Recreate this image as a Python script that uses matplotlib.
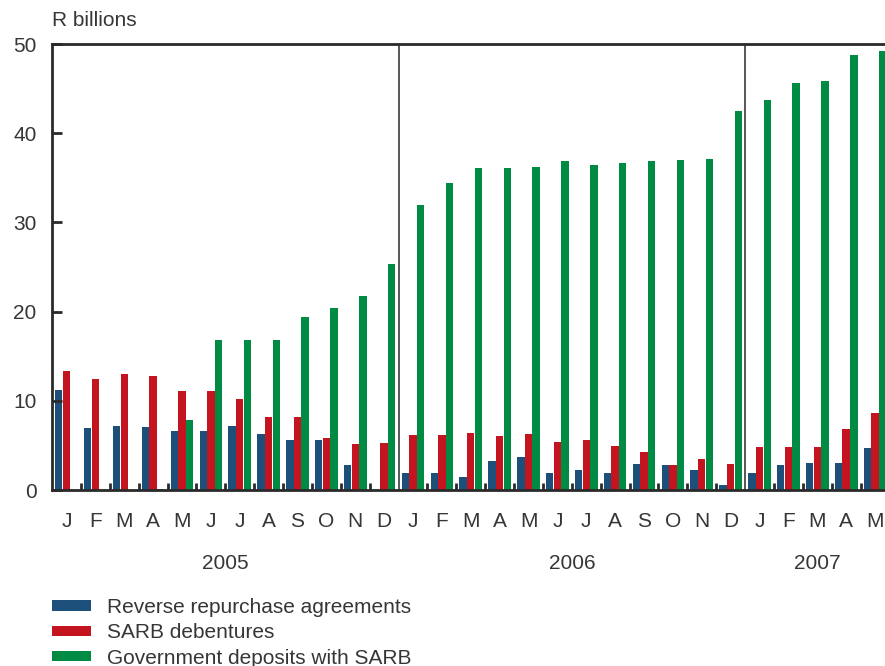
import numpy as np
import matplotlib.pyplot as plt

plt.rcParams['font.family'] = ['Liberation Sans', 'DejaVu Sans']

# ----------------------------------------------------------------
#  Data (R billions), Jan 2005 - May 2007
# ----------------------------------------------------------------
months = list("JFMAMJJASOND") * 2 + list("JFMAM")
years = ["2005", "2006", "2007"]
year_months = [12, 12, 5]

reverse_repo = [11.2, 7.0, 7.2, 7.1, 6.6, 6.6, 7.2, 6.3, 5.6, 5.6, 2.8, 0.0,
                1.9, 1.9, 1.5, 3.25, 3.7, 1.9, 2.25, 1.9, 2.9, 2.8, 2.25, 0.55,
                1.9, 2.8, 3.0, 3.0, 4.7]
sarb_debentures = [13.3, 12.5, 13.0, 12.8, 11.1, 11.1, 10.2, 8.2, 8.2, 5.85, 5.15, 5.25,
                   6.2, 6.2, 6.4, 6.05, 6.3, 5.4, 5.6, 4.9, 4.3, 2.8, 3.5, 2.9,
                   4.8, 4.8, 4.8, 6.8, 8.6]
govt_deposits = [0.0, 0.0, 0.0, 0.15, 7.8, 16.85, 16.85, 16.85, 19.4, 20.4, 21.8, 25.3,
                 32.0, 34.4, 36.1, 36.1, 36.2, 36.9, 36.4, 36.65, 36.9, 37.0, 37.1, 42.5,
                 43.7, 45.6, 45.9, 48.8, 49.2]

series = [
    ("Reverse repurchase agreements", reverse_repo, "#1c4f7a"),
    ("SARB debentures", sarb_debentures, "#c3141f"),
    ("Government deposits with SARB", govt_deposits, "#008b45"),
]

text_col = "#363636"
line_col = "#2a2a2a"

# ----------------------------------------------------------------
#  Figure
# ----------------------------------------------------------------
fig = plt.figure(figsize=(8.85, 6.66), dpi=100)
ax = fig.add_axes([52 / 885, 1 - 490 / 666, 837.5 / 885, 446 / 666])

n = len(months)
x = np.arange(n)
width = 0.255
offsets = [0.235, 0.5, 0.765]
handles = []
for (label, vals, col), off in zip(series, offsets):
    h = ax.bar(x + off, vals, width=width, color=col, label=label, linewidth=0)
    handles.append(h)

ax.set_xlim(0, n)
ax.set_ylim(0, 50)

# year separators
bounds = np.cumsum(year_months)[:-1]
for b in bounds:
    ax.axvline(b, color=line_col, lw=1.1, zorder=3)

# spines
for side in ["left", "top", "bottom"]:
    ax.spines[side].set_color(line_col)
    ax.spines[side].set_linewidth(2)
ax.spines["right"].set_visible(False)

# y axis
ax.set_yticks(np.arange(0, 51, 10))
ax.tick_params(axis="y", direction="in", length=7, width=2, color=line_col,
               labelsize=15, labelcolor=text_col, pad=11)

# x axis: month letters centred in groups, small inward ticks between groups
ax.set_xticks(x + 0.5)
ax.set_xticklabels(months)
ax.tick_params(axis="x", which="major", length=0, labelsize=15,
               labelcolor=text_col, pad=16)
minor = [i for i in range(1, n) if i not in bounds]
ax.set_xticks(minor, minor=True)
ax.tick_params(axis="x", which="minor", direction="in", length=5, width=2,
               color=line_col)

# year labels
start = 0
for yr, cnt in zip(years, year_months):
    ax.text(start + cnt / 2, -0.164, yr, transform=ax.get_xaxis_transform(),
            ha="center", va="center", fontsize=15, color=text_col)
    start += cnt

fig.text(52 / 885, 1 - 20 / 666, "R billions", ha="left", va="center",
         fontsize=15, color=text_col)

fig.legend(handles=handles, loc="upper left",
           bbox_to_anchor=(52 / 885, 1 - 598 / 666), frameon=False,
           fontsize=15, labelcolor=text_col, handlelength=1.87,
           handleheight=0.4, handletextpad=0.75, labelspacing=0.3,
           borderpad=0, borderaxespad=0)

fig.savefig("out.png", dpi=100)
